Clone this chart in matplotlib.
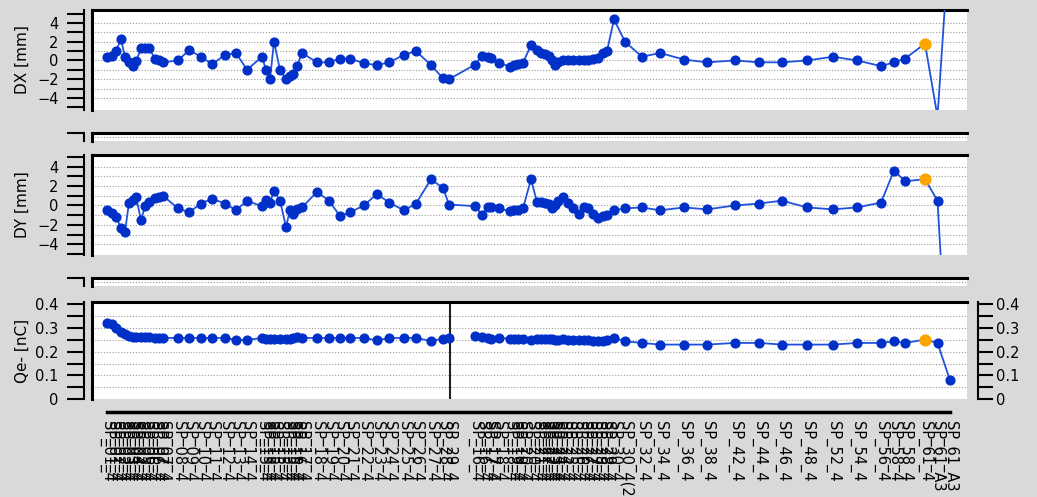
import numpy as np
import matplotlib.pyplot as plt

# scan position of every sample (left group, then right group)
pos = [107, 112, 116, 121, 125, 129, 133, 136, 141, 145, 149, 155, 159, 163, 178, 189, 201, 212,
       225, 236, 247, 262, 266, 270, 274, 280, 286, 290, 293, 297, 302, 317, 329, 340, 350, 364,
       377, 389, 404, 416, 431, 443, 449,
       475, 482, 488, 491, 499, 510, 514, 518, 523, 531, 537, 541, 545, 549, 552, 555, 558, 563,
       568, 573, 579, 584, 588, 593, 598, 603, 607, 614, 625,
       642, 660, 684, 707, 735, 759, 782, 807, 833, 857, 881, 894, 905, 925, 937.5, 950]

dx = [0.35, 0.45, 1.0, 2.3, 0.35, -0.2, -0.6, -0.1, 1.3, 1.3, 1.3, 0.2, 0.0, -0.2, 0.0, 1.1, 0.4, -0.4,
      0.6, 0.8, -1.0, 0.4, -1.0, -2.0, 2.0, -1.0, -2.0, -1.7, -1.5, -0.6, 0.8, -0.2, -0.2, 0.2, 0.2, -0.3,
      -0.5, -0.2, 0.6, 1.0, -0.5, -1.9, -2.0,
      -0.45, 0.5, 0.35, 0.27, -0.24, -0.68, -0.5, -0.34, -0.24, 1.63, 1.08, 0.85, 0.68, 0.44, 0.0, -0.5,
      -0.17, 0.07, 0.07, 0.07, 0.0, 0.0, 0.07, 0.17, 0.27, 0.85, 1.0, 4.4, 2.0,
      0.4, 0.8, 0.1, -0.2, 0.0, -0.2, -0.2, 0.0, 0.4, 0.0, -0.6, -0.2, 0.2, 1.8, -6.0, 14.0]

dy = [-0.5, -0.8, -1.2, -2.3, -2.7, 0.3, 0.6, 0.9, -1.5, -0.1, 0.4, 0.8, 0.9, 1.0, -0.3, -0.7, 0.2, 0.7,
      0.2, -0.5, 0.5, -0.1, 0.6, 0.3, 1.5, 0.5, -2.2, -0.5, -0.9, -0.4, -0.2, 1.4, 0.5, -1.1, -0.7, 0.0,
      1.2, 0.3, -0.5, 0.2, 2.7, 1.8, 0.1,
      -0.07, -0.94, -0.14, -0.17, -0.3, -0.6, -0.5, -0.5, -0.3, 2.7, 0.35, 0.35, 0.3, 0.17, -0.25, 0.1,
      0.45, 0.87, 0.3, -0.25, -0.87, -0.14, -0.3, -0.87, -1.3, -1.1, -1.0, -0.5, -0.3,
      -0.2, -0.5, -0.2, -0.4, 0.0, 0.2, 0.5, -0.2, -0.4, -0.2, 0.3, 3.6, 2.5, 2.7, 0.5, -22.0]

qe = [0.323, 0.318, 0.300, 0.285, 0.275, 0.268, 0.262, 0.260, 0.260, 0.262, 0.262, 0.258, 0.258, 0.258,
      0.258, 0.258, 0.258, 0.258, 0.258, 0.250, 0.250, 0.258, 0.255, 0.255, 0.255, 0.255, 0.255, 0.255,
      0.258, 0.262, 0.258, 0.258, 0.258, 0.258, 0.258, 0.258, 0.248, 0.258, 0.258, 0.258, 0.245, 0.255, 0.258,
      0.266, 0.262, 0.258, 0.255, 0.258, 0.255, 0.255, 0.255, 0.255, 0.250, 0.252, 0.252, 0.252, 0.252,
      0.252, 0.250, 0.250, 0.252, 0.250, 0.250, 0.248, 0.248, 0.248, 0.245, 0.245, 0.245, 0.248, 0.259, 0.244,
      0.237, 0.230, 0.230, 0.230, 0.237, 0.237, 0.230, 0.230, 0.230, 0.237, 0.237, 0.244, 0.237, 0.251,
      0.237, 0.079]

labels = ("SP_01_4 SP_01_4 SP_02_4 SP_02_4 SP_03_4 SP_03_4 SP_04_4 SP_04_4 SP_05_4 SP_05_4 "
          "SP_06_4 SP_06_4 SP_07_4 SP_07_4 SP_08_4 SP_09_4 SP_10_4 SP_11_4 SP_12_4 SP_13_4 "
          "SP_14_4 SP_15_4 SP_15_4 SP_15_4 SP_15_4 SP_15_4 SP_15_4 SP_15_4 SP_15_4 SP_16_4 "
          "SP_17_4 SP_18_4 SP_19_4 SP_20_4 SP_21_4 SP_22_4 SP_23_4 SP_24_4 SP_25_4 SP_26_4 "
          "SP_27_4 SP_28_4 SP_29_4 "
          "SP_16_4 SP_16_4 SP_17_4 SP_17_4 SP_18_4 SP_18_4 SP_19_4 SP_19_4 SP_20_4 SP_20_4 "
          "SP_21_4 SP_21_4 SP_22_4 SP_22_4 SP_23_4 SP_23_4 SP_24_4 SP_24_4 SP_25_4 SP_25_4 "
          "SP_26_4 SP_26_4 SP_27_4 SP_27_4 SP_28_4 SP_28_4 SP_29_4 SP_30_4 SP_30_4(2) "
          "SP_32_4 SP_34_4 SP_36_4 SP_38_4 SP_42_4 SP_44_4 SP_46_4 SP_48_4 SP_52_4 SP_54_4 "
          "SP_56_4 SP_58_4 SP_58_4 SP_61_4 SP_61_A3 SP_61_A3").split()

hl = 85          # highlighted (orange) sample
split_pos = 450  # vertical marker in the charge panel

W, H = 1037, 497
BG = '#d9d9d9'
LINE = '#2052dc'
MARK = '#0030c8'
ORANGE = '#ffa500'

plt.rcParams['font.family'] = ['DejaVu Sans']

fig = plt.figure(figsize=(W / 100, H / 100), dpi=100, facecolor=BG)


def box(top, bottom):
    return [92 / W, 1 - bottom / H, 875 / W, (bottom - top) / H]


def style(ax, ylim, major, minor, grid):
    ax.set_facecolor('white')
    ax.set_xlim(92, 967)
    ax.set_ylim(*ylim)
    ax.spines['right'].set_visible(False)
    ax.spines['bottom'].set_visible(False)
    ax.spines['top'].set_linewidth(2.2)
    ax.spines['left'].set_position(('outward', 6))
    ax.spines['left'].set_linewidth(1.5)
    ax.plot([0, 0], [0, 1], transform=ax.transAxes, color='k', lw=2.2, clip_on=False)
    ax.set_yticks(major)
    ax.set_yticks(minor, minor=True)
    ax.tick_params(axis='y', which='both', length=12, width=1.5, labelsize=10.5, pad=6)
    ax.tick_params(axis='x', bottom=False, labelbottom=False)
    for g in grid:
        ax.axhline(g, color='#9a9a9a', lw=0.8, ls=(0, (1, 1.6)), zorder=0)


def series(ax, y):
    ax.plot(pos, y, '-', color=LINE, lw=1.3, marker='o', ms=6.3, mfc=MARK, mec=MARK, zorder=3)
    ax.plot(pos[hl], y[hl], 'o', ms=7.8, color=ORANGE, zorder=4)


mm_major = [-4, -2, 0, 2, 4]
mm_minor = [-5, -3, -1, 1, 3, 5]
mm_grid = [-4, -3, -2, -1, 0, 1, 2, 3, 4]

ax1 = fig.add_axes(box(10, 110))
style(ax1, (-5.3, 5.4), mm_major, mm_minor, mm_grid)
series(ax1, dx)
ax1.set_ylabel('DX [mm]', fontsize=11)
ax1.yaxis.set_label_coords(-0.071, 0.5)

ax2 = fig.add_axes(box(155, 255))
style(ax2, (-5.1, 5.2), mm_major, mm_minor, mm_grid)
series(ax2, dy)
ax2.set_ylabel('DY [mm]', fontsize=11)
ax2.yaxis.set_label_coords(-0.071, 0.5)

# collapsed empty panels
for top in (133, 278):
    axs = fig.add_axes(box(top, top + 8))
    style(axs, (0, 1), [1], [], [0.5])
    axs.set_yticklabels([])

qe_major = [0, 0.1, 0.2, 0.3, 0.4]
qe_minor = [0.05, 0.15, 0.25, 0.35]
qe_ticklabels = ['0', '0.1', '0.2', '0.3', '0.4']

ax3 = fig.add_axes(box(302, 399))
style(ax3, (0, 0.41), qe_major, qe_minor, [0.05, 0.1, 0.15, 0.2, 0.25, 0.3, 0.35])
ax3.set_yticklabels(qe_ticklabels)
ax3.axvline(split_pos, color='#222222', lw=1.5, zorder=2)
p = np.array(pos)
q = np.array(qe)
for m in (p < split_pos, p > split_pos):
    ax3.plot(p[m], q[m], '-', color=LINE, lw=1.3, marker='o', ms=6.3, mfc=MARK, mec=MARK, zorder=3)
ax3.plot(pos[hl], qe[hl], 'o', ms=7.8, color=ORANGE, zorder=4)
ax3.set_ylabel('Qe- [nC]', fontsize=11)
ax3.yaxis.set_label_coords(-0.071, 0.5)

# right-hand charge axis
axr = ax3.twinx()
axr.set_ylim(ax3.get_ylim())
for s in ('left', 'top', 'bottom'):
    axr.spines[s].set_visible(False)
axr.spines['right'].set_position(('outward', 8))
axr.spines['right'].set_linewidth(1.5)
axr.set_yticks(qe_major)
axr.set_yticks(qe_minor, minor=True)
axr.set_yticklabels(qe_ticklabels)
axr.tick_params(axis='y', which='both', length=11, width=1.5, labelsize=10.5, pad=2)

ax3.spines['bottom'].set_visible(True)
ax3.spines['bottom'].set_position(('outward', 9))
ax3.spines['bottom'].set_linewidth(2.5)
ax3.spines['bottom'].set_bounds(pos[0], pos[-1])
ax3.set_xticks(pos)
ax3.set_xticklabels(labels, rotation=270, fontsize=10.5)
ax3.tick_params(axis='x', bottom=True, labelbottom=True, length=0, pad=7)

fig.savefig('out.png', dpi=100, facecolor=BG)
